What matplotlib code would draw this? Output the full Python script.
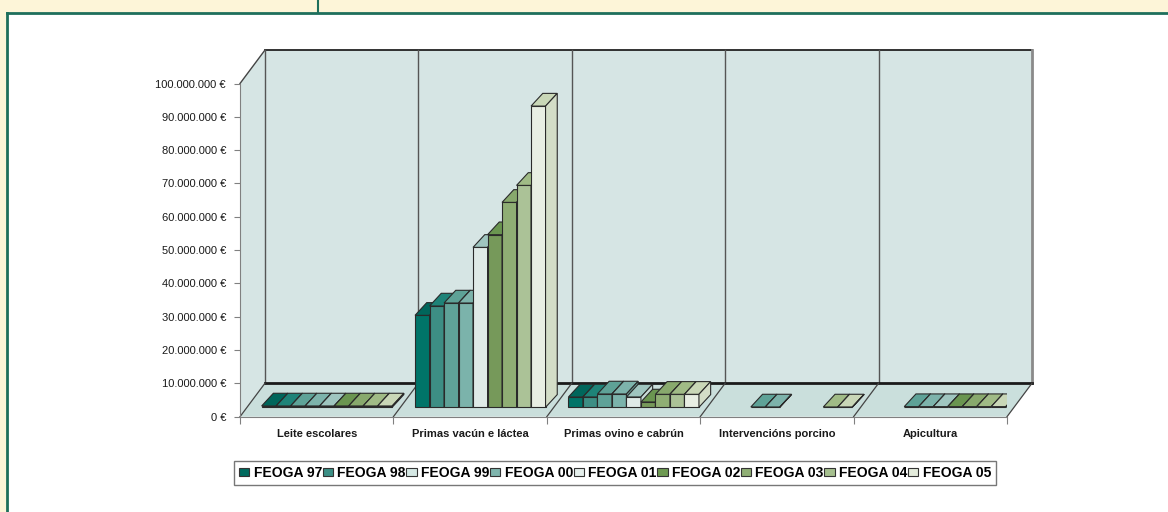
import numpy as np
import matplotlib.pyplot as plt
from matplotlib.patches import Polygon, Rectangle
from matplotlib.lines import Line2D
from matplotlib.ticker import FuncFormatter

plt.rcParams['font.family'] = ['Liberation Sans', 'DejaVu Sans']

categories = ['Leite escolares', 'Primas vacún e láctea', 'Primas ovino e cabrún',
              'Intervencións porcino', 'Apicultura']
series = ['FEOGA 97', 'FEOGA 98', 'FEOGA 99', 'FEOGA 00', 'FEOGA 01',
          'FEOGA 02', 'FEOGA 03', 'FEOGA 04', 'FEOGA 05']

nan = np.nan
# euros per category (nan = no bar)
feoga_97 = [0.4e6, 27.6e6, 3.1e6, nan, nan]
feoga_98 = [0.4e6, 30.4e6, 3.1e6, nan, nan]
feoga_99 = [0.4e6, 31.3e6, 4.0e6, 0.1e6, 0.2e6]
feoga_00 = [0.4e6, 31.3e6, 4.0e6, 0.1e6, 0.2e6]
feoga_01 = [0.4e6, 48.0e6, 3.1e6, nan, 0.2e6]
feoga_02 = [0.4e6, 51.8e6, 1.6e6, nan, 0.2e6]
feoga_03 = [0.4e6, 61.5e6, 3.9e6, nan, 0.2e6]
feoga_04 = [0.4e6, 66.6e6, 3.9e6, 0.1e6, 0.2e6]
feoga_05 = [0.4e6, 90.4e6, 3.9e6, 0.1e6, 0.2e6]
values = [feoga_97, feoga_98, feoga_99, feoga_00, feoga_01,
          feoga_02, feoga_03, feoga_04, feoga_05]

front_cols = ['#007468', '#3d8e84', '#5fa298', '#7bb3ab', '#dfeae7',
              '#76995a', '#8fae74', '#abc297', '#e8eee3']
top_cols = ['#00665b', '#1e8378', '#5ea297', '#7db3ab', '#9fc5bf',
            '#6a9550', '#88a96d', '#a0bb86', '#c9d7b7']
side_cols = ['#005c52', '#2c7a70', '#4f8f86', '#6a9e97', '#c9dcd8',
             '#638549', '#7c9a63', '#94ad7f', '#d3ddc7']
legend_cols = ['#006a5e', '#3b8f85', '#d5e8e4', '#7fb5ad', '#e5efec',
               '#6e9a52', '#8fae74', '#a6c08f', '#e4ecdc']

W, H = 1168, 512
fig = plt.figure(figsize=(W / 100, H / 100), dpi=100, facecolor='#fdf5d8')

# page frame
fig.add_artist(Rectangle((7 / W, 0), 1 - 7 / W, 1 - 13 / H, transform=fig.transFigure,
                         facecolor='white', edgecolor='none', zorder=-5))
green = '#1e6f5c'
fig.add_artist(Line2D([7 / W, 1], [1 - 13 / H, 1 - 13 / H], transform=fig.transFigure,
                      color=green, lw=2, zorder=-4))
fig.add_artist(Line2D([7 / W, 7 / W], [0, 1 - 13 / H], transform=fig.transFigure,
                      color=green, lw=2, zorder=-4))
fig.add_artist(Line2D([318 / W, 318 / W], [1 - 13 / H, 1], transform=fig.transFigure,
                      color=green, lw=1.5, zorder=-4))

x0, y0, aw, ah = 240, 416.7, 767, 333.2
ax = fig.add_axes([x0 / W, 1 - y0 / H, aw / W, ah / H])
ax.set_facecolor('none')
ncat = len(categories)
ymax = 100e6
ax.set_xlim(0, ncat)
ax.set_ylim(0, ymax)

ux = aw / ncat          # px per category
uy = ah / ymax          # px per euro
DX, DY = 25 / ux, 33.5 / uy          # wall depth
bx, by = 10.2 / ux, 9.4 / uy          # bar front offset
tx, ty = 11.7 / ux, 12.7 / uy         # bar depth
bw = 14.5 / ux
gap = (1 - len(series) * bw) / 2

wall = '#d6e5e4'
floor = '#cadfdc'
kw = dict(clip_on=False)
ax.add_patch(Polygon([(DX, DY), (ncat + DX, DY), (ncat + DX, ymax + DY), (DX, ymax + DY)],
                     closed=True, facecolor=wall, edgecolor='none', zorder=0.5, **kw))
ax.add_patch(Polygon([(0, 0), (DX, DY), (DX, ymax + DY), (0, ymax)],
                     closed=True, facecolor=wall, edgecolor='none', zorder=0.5, **kw))
ax.add_patch(Polygon([(0, 0), (ncat, 0), (ncat + DX, DY), (DX, DY)],
                     closed=True, facecolor=floor, edgecolor='none', zorder=0.6, **kw))

ax.plot([DX, ncat + DX], [ymax + DY, ymax + DY], color='#222222', lw=1.3, zorder=0.8, **kw)
ax.plot([0, DX], [ymax, ymax + DY], color='#444444', lw=1, zorder=0.8, **kw)
ax.plot([DX, DX], [DY, ymax + DY], color='#555555', lw=1, zorder=0.8, **kw)
for c in range(1, ncat):
    ax.plot([c + DX, c + DX], [DY, ymax + DY], color='#555555', lw=1, zorder=0.8, **kw)
ax.plot([ncat + DX, ncat + DX], [DY, ymax + DY], color='#8a8a8a', lw=2, zorder=0.8, **kw)
ax.plot([DX, ncat + DX], [DY, DY], color='#1a1a1a', lw=2, zorder=0.8, **kw)
for c in range(0, ncat + 1):
    ax.plot([c, c + DX], [0, DY], color='#444444', lw=0.9, zorder=0.8, **kw)

# bars with fake 3D faces
edge = '#2a2a2a'
handles = []
for i, name in enumerate(series):
    v = np.array(values[i], dtype=float)
    xl = np.arange(ncat) + gap + i * bw + bx
    z = 2 + i * 0.1
    ok = ~np.isnan(v)
    ax.bar(xl[ok], v[ok], width=bw, bottom=by, align='edge', color=front_cols[i],
           edgecolor=edge, linewidth=0.8, zorder=z, label=name)
    for x, h in zip(xl[ok], v[ok]):
        top = by + h
        ax.add_patch(Polygon([(x, top), (x + bw, top), (x + bw + tx, top + ty), (x + tx, top + ty)],
                             closed=True, facecolor=top_cols[i], edgecolor=edge, lw=0.8, zorder=z))
        ax.add_patch(Polygon([(x + bw, by), (x + bw + tx, by + ty), (x + bw + tx, top + ty), (x + bw, top)],
                             closed=True, facecolor=side_cols[i], edgecolor=edge, lw=0.8, zorder=z))
    handles.append(Rectangle((0, 0), 1, 1, facecolor=legend_cols[i], edgecolor='#333333', lw=0.8))

# axes styling
for s in ['top', 'right']:
    ax.spines[s].set_visible(False)
ax.spines['left'].set_color('#808080')
ax.spines['bottom'].set_color('#808080')
ax.spines['left'].set_zorder(0.9)
ax.spines['bottom'].set_zorder(0.9)
ax.set_yticks(np.arange(0, ymax + 1, 10e6))
ax.yaxis.set_major_formatter(FuncFormatter(lambda v, p: f"{int(round(v)):,}".replace(',', '.') + ' €'))
ax.tick_params(axis='y', direction='out', length=4, color='#808080', labelsize=8,
               labelcolor='#1a1a1a', pad=6)
ax.set_xticks(np.arange(0, ncat + 1))
ax.set_xticklabels([])
ax.set_xticks(np.arange(ncat) + 0.5, minor=True)
ax.set_xticklabels(categories, minor=True, fontsize=8, fontweight='bold', color='#1a1a1a')
ax.tick_params(axis='x', which='major', direction='out', length=5, color='#808080')
ax.tick_params(axis='x', which='minor', length=0, pad=8.5)

leg = fig.legend(handles, series, loc='center', bbox_to_anchor=(615 / W, 1 - 473 / H),
                 ncol=len(series), prop={'weight': 'bold', 'size': 10},
                 handlelength=0.75, handleheight=0.45, handletextpad=0.3,
                 columnspacing=0.05, borderpad=0.35, fancybox=False, frameon=True)
leg.get_frame().set_edgecolor('#555555')
leg.get_frame().set_linewidth(1)

fig.savefig('out.png', dpi=100)
